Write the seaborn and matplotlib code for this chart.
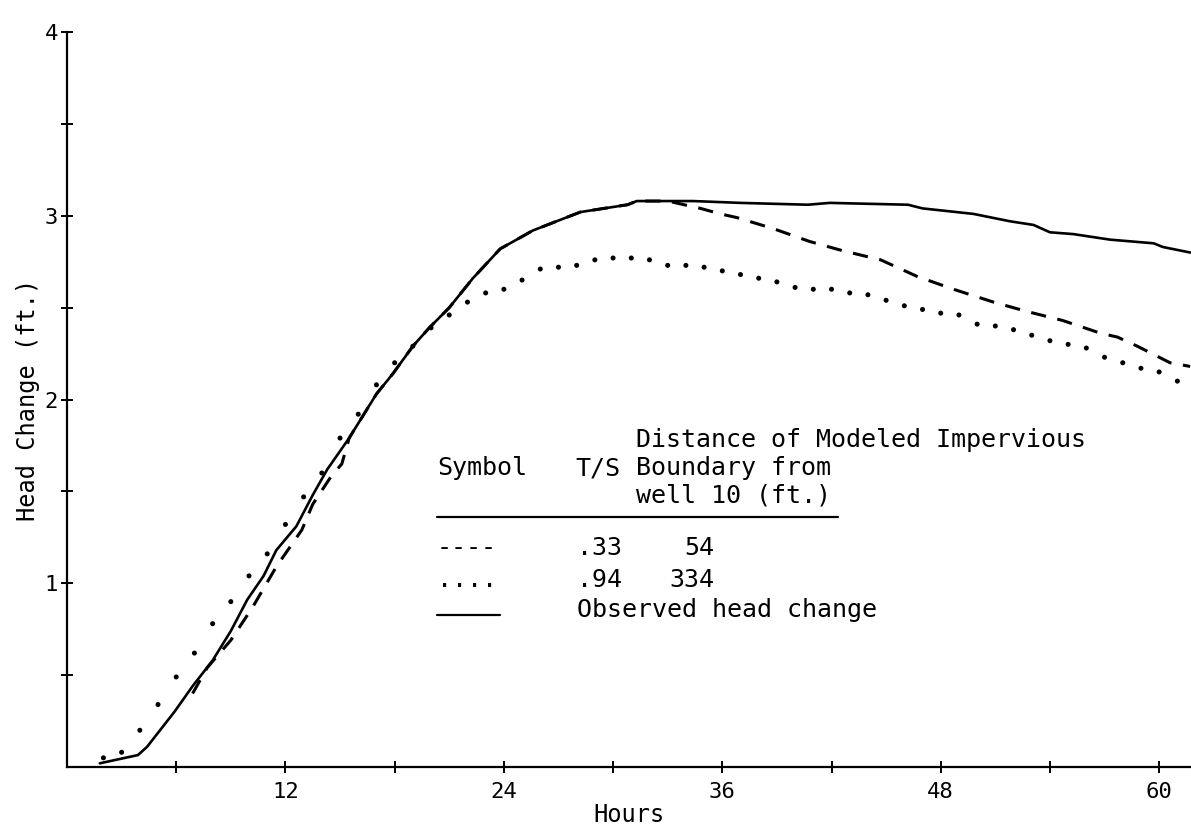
import numpy as np
import pandas as pd
import matplotlib
matplotlib.use("Agg")
import matplotlib.pyplot as plt
from matplotlib.lines import Line2D
import seaborn as sns

# ---------------- data ----------------
obs_hours = [1.8, 3.9, 4.4, 5.9, 6.9, 8.0, 9.0, 9.9, 10.8, 11.5, 12.6, 13.5, 14.3,
             15.5, 17.0, 17.9, 19.0, 19.9, 21.0, 22.3, 23.8, 25.6, 28.2, 30.8, 31.3,
             34.4, 37.0, 40.7, 41.9, 46.2, 47.0, 49.8, 51.3, 51.8, 53.1, 54.0, 55.3,
             57.3, 59.7, 60.2, 61.7]
obs_head = [0.02, 0.065, 0.11, 0.30, 0.44, 0.58, 0.74, 0.91, 1.04, 1.18, 1.31, 1.48, 1.62,
            1.79, 2.03, 2.14, 2.29, 2.39, 2.50, 2.66, 2.82, 2.92, 3.02, 3.06, 3.08,
            3.08, 3.07, 3.06, 3.07, 3.06, 3.04, 3.01, 2.98, 2.97, 2.95, 2.91, 2.90,
            2.87, 2.85, 2.83, 2.80]

dash_hours = [6.9, 7.7, 9.0, 10.2, 11.5, 12.9, 13.5, 14.5, 15.1, 15.5, 17.0, 17.9, 19.0,
              19.9, 21.0, 22.3, 23.8, 25.6, 28.2, 30.8, 31.3, 33.0, 34.8, 35.9, 36.8,
              38.8, 40.8, 42.6, 44.7, 46.7, 48.7, 50.9, 52.7, 54.7, 56.8, 57.7, 58.8,
              60.6, 61.7]
dash_head = [0.40, 0.54, 0.69, 0.87, 1.09, 1.29, 1.43, 1.58, 1.65, 1.79, 2.03, 2.14, 2.29,
             2.39, 2.50, 2.66, 2.82, 2.92, 3.02, 3.06, 3.08, 3.08, 3.04, 3.01, 2.99,
             2.93, 2.86, 2.81, 2.76, 2.67, 2.60, 2.53, 2.48, 2.43, 2.36, 2.34, 2.29,
             2.20, 2.18]

dot_hours = list(range(2, 62))
dot_head = [0.05, 0.08, 0.20, 0.34, 0.49, 0.62, 0.78, 0.90, 1.04, 1.16,
            1.32, 1.47, 1.60, 1.79, 1.92, 2.08, 2.20, 2.29, 2.39, 2.46,
            2.53, 2.58, 2.60, 2.65, 2.71, 2.72, 2.73, 2.76, 2.77, 2.77,
            2.76, 2.73, 2.73, 2.72, 2.70, 2.68, 2.66, 2.64, 2.61, 2.60,
            2.60, 2.58, 2.57, 2.54, 2.51, 2.49, 2.47, 2.46, 2.41, 2.40,
            2.38, 2.35, 2.32, 2.30, 2.28, 2.23, 2.20, 2.17, 2.15, 2.10]

x_ticks = list(range(6, 61, 6))
x_tick_labels = ["" if t % 12 else str(t) for t in x_ticks]
y_ticks = [0.5, 1.0, 1.5, 2.0, 2.5, 3.0, 3.5, 4.0]
y_tick_labels = ["", "1", "", "2", "", "3", "", "4"]

legend_header_1 = "Distance of Modeled Impervious"
legend_header_2 = ["Symbol", "T/S", "Boundary from"]
legend_header_3 = "well 10 (ft.)"
legend_rows = [("----", ".33", "54"), ("....", ".94", "334")]
legend_observed = "Observed head change"

# ---------------- styling ----------------
sns.set_theme(style="ticks")
plt.rcParams["font.family"] = ["DejaVu Sans Mono", "DejaVu Sans"]

W, H = 1191, 832
fig = plt.figure(figsize=(W / 100, H / 100), dpi=100)
fig.patch.set_facecolor("white")
ax = fig.add_axes([67 / W, 1 - 767 / H, (W - 67) / W, (767 - 32) / H])
ax.set_facecolor("white")

obs_df = pd.DataFrame({"Hours": obs_hours, "Head": obs_head})
dash_df = pd.DataFrame({"Hours": dash_hours, "Head": dash_head})
dot_df = pd.DataFrame({"Hours": dot_hours, "Head": dot_head})

sns.lineplot(data=obs_df, x="Hours", y="Head", sort=False, ax=ax,
             color="black", lw=1.9, estimator=None)
sns.lineplot(data=dash_df, x="Hours", y="Head", sort=False, ax=ax,
             color="black", lw=2.2, estimator=None)
ax.lines[-1].set_dashes((5.0, 3.8))
sns.scatterplot(data=dot_df, x="Hours", y="Head", ax=ax, color="black",
                s=13, edgecolor="none", linewidth=0)

ax.set_xlim(0, 61.75)
ax.set_ylim(0, 4)
ax.set_xticks(x_ticks)
ax.set_xticklabels(x_tick_labels)
ax.set_yticks(y_ticks)
ax.set_yticklabels(y_tick_labels)
ax.tick_params(axis="both", direction="inout", length=9, width=1.4,
               labelsize=16, colors="black")
ax.tick_params(axis="x", pad=6)
ax.tick_params(axis="y", pad=2)
for side in ("top", "right"):
    ax.spines[side].set_visible(False)
for side in ("left", "bottom"):
    ax.spines[side].set_linewidth(1.6)
    ax.spines[side].set_color("black")

ax.set_xlabel("Hours", fontsize=17, color="black", labelpad=1)
ax.set_ylabel("Head Change (ft.)", fontsize=17, color="black", labelpad=3)

FS = 18


def ftext(px, py, s, ha="left"):
    fig.text(px / W, 1 - py / H, s, fontsize=FS, color="black",
             va="center", ha=ha)


def fline(x0, x1, py, lw=1.6):
    fig.add_artist(Line2D([x0 / W, x1 / W], [1 - py / H, 1 - py / H],
                          transform=fig.transFigure, color="black", lw=lw))


ftext(636, 440, legend_header_1)
ftext(437, 468, legend_header_2[0])
ftext(575, 468, legend_header_2[1])
ftext(636, 468, legend_header_2[2])
ftext(636, 496, legend_header_3)
fline(437, 838, 517)
row_y = [548, 580]
for (sym, ts, dist), ry in zip(legend_rows, row_y):
    ftext(437, ry, sym)
    ftext(577, ry, ts)
    ftext(714, ry, dist, ha="right")
fline(437, 500, 615)
ftext(577, 610, legend_observed)

fig.savefig("out.png", dpi=100, facecolor="white")
